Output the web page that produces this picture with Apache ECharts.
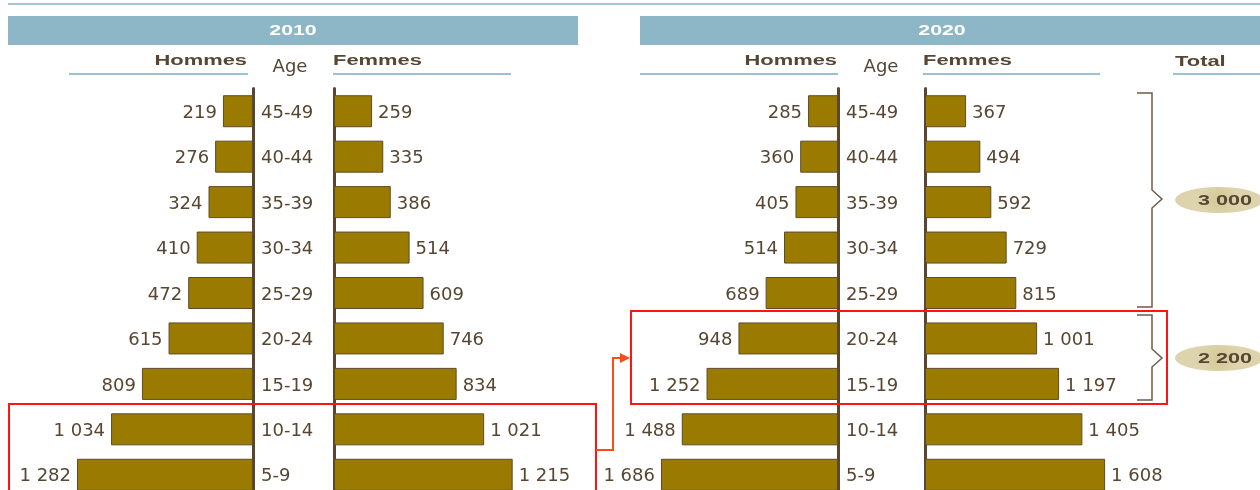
<!DOCTYPE html>
<html><head><meta charset="utf-8">
<script src="https://cdn.jsdelivr.net/npm/echarts@6/dist/echarts.min.js"></script>
<style>html,body{margin:0;padding:0;background:#fff}#c{width:1260px;height:490px}</style>
</head><body><div id="c"></div>
<script>
const ages = ['45-49','40-44','35-39','30-34','25-29','20-24','15-19','10-14','5-9'];
const hommes2010 = [219,276,324,410,472,615,809,1034,1282];
const femmes2010 = [259,335,386,514,609,746,834,1021,1215];
const hommes2020 = [285,360,405,514,689,948,1252,1488,1686];
const femmes2020 = [367,494,592,729,815,1001,1197,1405,1608];
const years = ['2010','2020'];
const totals = ['3 000','2 200'];

const FONT = '"Liberation Sans", Arial, sans-serif';
const WFONT = '"DejaVu Sans", sans-serif';
const BROWN = '#5a4630';
const TXT = '#574632';
const BLUE = '#8db6c7';
const fmt = v => String(v).replace(/\B(?=(\d{3})+(?!\d))/g, ' ');

const chart = echarts.init(document.getElementById('c'), null, {renderer:'canvas'});
const TOP = 88.5, H = 409;
const grids = [
  {left:0, width:253, top:TOP, height:H},
  {left:334, width:265, top:TOP, height:H},
  {left:628, width:210, top:TOP, height:H},
  {left:925, width:224, top:TOP, height:H}
].map(g=>Object.assign(g,{containLabel:false, outerBoundsMode:'none'}));
const maxes = [1843, 1802, 2000, 2000];
const xAxes = grids.map((g,i)=>({gridIndex:i, type:'value', min:0, max:maxes[i], inverse:(i%2===0), show:false}));
const yAxes = grids.map((g,i)=>({
  gridIndex:i, type:'category', data:ages, inverse:true,
  position: i%2===0 ? 'right' : 'left',
  axisLine:{show:true, lineStyle:{color:BROWN, width:3}},
  axisTick:{show:false},
  axisLabel:{show:i%2===0, color:TXT, fontSize:18, fontFamily:WFONT, margin:8, align:'left',
    formatter:v=>'{a|'+v+'}', rich:{a:{color:TXT, fontSize:18, fontFamily:WFONT, padding:[4,0,0,0]}}},
  splitLine:{show:false}
}));
const datasets = [hommes2010, femmes2010, hommes2020, femmes2020];
const series = datasets.map((d,i)=>({
  type:'bar', xAxisIndex:i, yAxisIndex:i, data:d, barWidth:32,
  itemStyle:{color:'#9a7b00', borderColor:'#5e4b2b', borderWidth:1},
  label:{show:true, position: i%2===0 ? 'left' : 'right', distance:6, offset:[0,2], color:TXT, fontSize:18, fontFamily:WFONT, formatter:p=>fmt(p.value)},
  silent:true, animation:false
}));

const g = [];
g.push({type:'line', shape:{x1:8,y1:4,x2:1260,y2:4}, style:{stroke:'#a3c6d4', lineWidth:2}});
[[8,570],[640,620]].forEach((b,i)=>{
  g.push({type:'rect', shape:{x:b[0],y:16,width:b[1],height:29}, style:{fill:BLUE}});
  g.push({type:'text', x:b[0]+b[1]/2 - (i===1?8:0), y:31, scaleX:1.42, style:{text:years[i], fill:'#fff', font:'bold 15px '+FONT, textAlign:'center', textVerticalAlign:'middle'}});
});
function hdr(text, x, align, bold, y){
  if (bold) g.push({type:'text', x:x, y:y, scaleX:1.46, style:{text:text, fill:TXT, font:'bold 15px '+FONT, textAlign:align, textVerticalAlign:'middle'}});
  else g.push({type:'text', x:x, y:y, style:{text:text, fill:TXT, font:'18px '+WFONT, textAlign:align, textVerticalAlign:'middle'}});
}
function ul(x1,x2){ g.push({type:'line', shape:{x1:x1,y1:74,x2:x2,y2:74}, style:{stroke:'#9cc1d1', lineWidth:2}}); }
hdr('Hommes',247,'right',true,61); ul(69,248);
hdr('Age',290,'center',false,67);
hdr('Femmes',333,'left',true,61); ul(333,511);
hdr('Hommes',837,'right',true,61); ul(640,838);
hdr('Age',881,'center',false,67);
hdr('Femmes',923,'left',true,61); ul(923,1100);
hdr('Total',1175,'left',true,62); ul(1173,1260);
const braceCol = '#6e5c47';
g.push({type:'polyline', shape:{points:[[1137,93],[1152,93],[1152,190],[1162,199],[1152,208],[1152,307],[1137,307]]}, style:{stroke:braceCol, lineWidth:1.5, fill:null}});
g.push({type:'polyline', shape:{points:[[1137,315],[1152,315],[1152,349],[1162,358],[1152,367],[1152,400],[1137,400]]}, style:{stroke:braceCol, lineWidth:1.5, fill:null}});
[[200,totals[0]],[358,totals[1]]].forEach(e=>{
  g.push({type:'ellipse', shape:{cx:1219, cy:e[0], rx:44, ry:13}, style:{fill:new echarts.graphic.RadialGradient(0.5,0.5,0.7,[{offset:0,color:'#d3c895'},{offset:1,color:'#ddd4ad'}])}});
  g.push({type:'text', x:1225, y:e[0]+1, scaleX:1.44, style:{text:e[1], fill:TXT, font:'bold 15px '+FONT, textAlign:'center', textVerticalAlign:'middle'}});
});
g.push({type:'rect', shape:{x:9,y:404,width:587,height:100}, style:{stroke:'#ff1414', lineWidth:2, fill:null}, z:10});
g.push({type:'rect', shape:{x:631,y:311,width:536,height:93}, style:{stroke:'#ff1414', lineWidth:2, fill:null}, z:10});
g.push({type:'polyline', shape:{points:[[596,450],[613,450],[613,358],[622,358]]}, style:{stroke:'#ff4a1a', lineWidth:2, fill:null}, z:10});
g.push({type:'polygon', shape:{points:[[620,353],[630,358],[620,363]]}, style:{fill:'#ff4a1a'}, z:10});

chart.setOption({
  animation:false,
  textStyle:{fontFamily:FONT},
  grid:grids, xAxis:xAxes, yAxis:yAxes, series:series, graphic:g
});
</script></body></html>
